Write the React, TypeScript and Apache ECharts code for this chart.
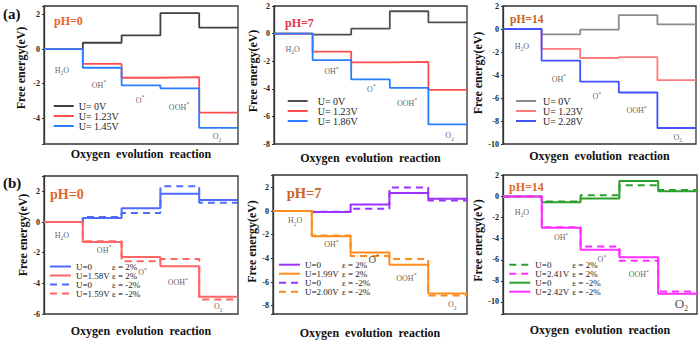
import React, { useEffect, useRef } from 'react';
import * as echarts from 'echarts';

const SERIF = '"Liberation Serif", "Times New Roman", serif';

// reaction intermediates (x positions 0..4)
const steps = ['H2O', 'OH*', 'O*', 'OOH*', 'O2'];

// (a) pH = 0
const a0U0 = [0, 0.37, 0.8, 2.09, 1.25];
const a0U123 = [0, -0.86, -1.66, -1.62, -3.68];
const a0U145 = [0, -1.08, -2.1, -2.27, -4.56];
// (a) pH = 7
const a7U0 = [0, -0.07, 0.36, 1.62, 0.82];
const a7U123 = [0, -1.3, -2.08, -2.05, -4.08];
const a7U186 = [0, -1.92, -3.32, -3.93, -6.58];
// (a) pH = 14
const a14U0 = [0, -0.46, -0.06, 1.21, 0.4];
const a14U123 = [0, -1.73, -2.52, -2.45, -4.45];
const a14U228 = [0, -2.75, -4.57, -5.52, -8.61];

// (b) pH = 0
const b0U0p2 = [0, 0.26, 0.89, 1.85, 1.43];
const b0U158p2 = [0, -1.3, -2.28, -2.88, -4.87];
const b0U0m2 = [0, 0.33, 0.59, 2.33, 1.26];
const b0U159m2 = [0, -1.26, -2.56, -2.42, -5.05];
// (b) pH = 7
const b7U0p2 = [0, -0.08, 0.56, 1.52, 1.04];
const b7U199p2 = [0, -2.12, -3.5, -4.54, -6.97];
const b7U0m2 = [0, -0.06, 0.2, 2.0, 0.9];
const b7U200m2 = [0, -2.06, -3.8, -4.05, -7.13];
// (b) pH = 14
const b14U0p2 = [0, -0.47, 0.13, 1.08, 0.63];
const b14U241p2 = [0, -2.92, -4.73, -6.1, -9.02];
const b14U0m2 = [0, -0.54, -0.19, 1.49, 0.51];
const b14U242m2 = [0, -2.97, -5.05, -5.76, -9.22];

// label anchors for the intermediate names (data coordinates)
const a0LabelPos = [[0.46, -1.22], [1.42, -2.09], [2.48, -2.96], [3.48, -3.38], [4.46, -5.08]];
const a7LabelPos = [[0.48, -1.13], [1.49, -2.75], [2.52, -4.02], [3.45, -5.03], [4.55, -7.4]];
const a14LabelPos = [[0.49, -1.49], [1.45, -4.35], [2.43, -5.89], [3.46, -7.1], [4.53, -9.41]];
const b0LabelPos = [[0.46, -0.85], [1.55, -1.83], [2.54, -3.3], [3.45, -3.96], [4.49, -5.52]];
const b7LabelPos = [[0.57, -0.82], [1.51, -2.85], [2.6, -4.06], [3.44, -5.66], [4.62, -7.92]];
const b14LabelPos = [[0.49, -1.48], [1.5, -3.89], [2.55, -6.01], [3.5, -7.44], [4.6, -10.12]];

const toSteps = (vals: number[]) => [
  ...vals.map((v, i) => [i, v]),
  [vals.length, vals[vals.length - 1]],
];

const richName = (name: string, big: boolean) => {
  const n = big ? 'N' : 'n', s = big ? 'S' : 's', p = big ? 'P' : 'p';
  let out = '';
  for (const ch of name) {
    if (/[0-9]/.test(ch)) out += `{${s}|${ch}}`;
    else if (ch === '*') out += `{${p}|*}`;
    else out += `{${n}|${ch}}`;
  }
  return out;
};

type S = { name: string; vals: number[]; color: string; dashed?: boolean };

const panels = [
  {
    key: 'a0', grid: { left: 44, top: 6, width: 194, height: 138 }, ymin: -5.5, ymax: 2.5,
    xGap: 4, yGap: 17, yShift: 7, width: 1.8,
    series: [
      { name: 'a0|U= 0V', vals: a0U0, color: '#404040' },
      { name: 'a0|U= 1.23V', vals: a0U123, color: '#ff4d4d' },
      { name: 'a0|U= 1.45V', vals: a0U145, color: '#2b7dff' },
    ] as S[],
    legendOrder: ['a0|U= 0V', 'a0|U= 1.23V', 'a0|U= 1.45V'],
    legend: { left: 52.7, top: 101, lh: 10.5, pad: 0, kind: 'a', fs: 10, uw: 0 },
    labels: a0LabelPos, big: [] as number[], bigSize: 10,
    ph: { text: 'pH=0', x: 54, y: 21, size: 12, color: '#e8642c' },
  },
  {
    key: 'a7', grid: { left: 274, top: 6, width: 193, height: 138 }, ymin: -8, ymax: 2,
    xGap: 8, yGap: 14, yShift: 4, width: 1.8,
    series: [
      { name: 'a7|U= 0V', vals: a7U0, color: '#505050' },
      { name: 'a7|U= 1.23V', vals: a7U123, color: '#ff4d4d' },
      { name: 'a7|U= 1.86V', vals: a7U186, color: '#2b7dff' },
    ] as S[],
    legendOrder: ['a7|U= 0V', 'a7|U= 1.23V', 'a7|U= 1.86V'],
    legend: { left: 286.7, top: 96, lh: 12, pad: 5, kind: 'a', fs: 10, uw: 0 },
    labels: a7LabelPos, big: [] as number[], bigSize: 10,
    ph: { text: 'pH=7', x: 285, y: 23, size: 12, color: '#dd3344' },
  },
  {
    key: 'a14', grid: { left: 503, top: 6, width: 193, height: 138 }, ymin: -10, ymax: 2,
    xGap: 6, yGap: 16, yShift: 2, width: 1.8,
    series: [
      { name: 'a14|U= 0V', vals: a14U0, color: '#8c8c8c' },
      { name: 'a14|U= 1.23V', vals: a14U123, color: '#ff7b7b' },
      { name: 'a14|U= 2.28V', vals: a14U228, color: '#4250ff' },
    ] as S[],
    legendOrder: ['a14|U= 0V', 'a14|U= 1.23V', 'a14|U= 2.28V'],
    legend: { left: 515, top: 96, lh: 12, pad: 2, kind: 'a', fs: 10, uw: 0 },
    labels: a14LabelPos, big: [] as number[], bigSize: 10,
    ph: { text: 'pH=14', x: 510, y: 19, size: 11.5, color: '#c8601e' },
  },
  {
    key: 'b0', grid: { left: 44, top: 176, width: 194, height: 138 }, ymin: -6, ymax: 3,
    xGap: 11, yGap: 15, yShift: 10, width: 2,
    series: [
      { name: 'b0|U=0|ε = -2%', vals: b0U0m2, color: '#4f6bff', dashed: true },
      { name: 'b0|U=0|ε = 2%', vals: b0U0p2, color: '#4f6bff' },
      { name: 'b0|U=1.59V|ε = -2%', vals: b0U159m2, color: '#ff6464', dashed: true },
      { name: 'b0|U=1.58V|ε = 2%', vals: b0U158p2, color: '#ff6464' },
    ] as S[],
    legendOrder: ['b0|U=0|ε = 2%', 'b0|U=1.58V|ε = 2%', 'b0|U=0|ε = -2%', 'b0|U=1.59V|ε = -2%'],
    legend: { left: 49, top: 262, lh: 11.8, pad: 0, kind: 'b', fs: 9, uw: 36 },
    labels: b0LabelPos, big: [] as number[], bigSize: 10,
    ph: { text: 'pH=0', x: 50, y: 194, size: 14, color: '#e0642a' },
  },
  {
    key: 'b7', grid: { left: 273, top: 175, width: 194, height: 139 }, ymin: -8.7, ymax: 3.05,
    xGap: 13, yGap: 13, yShift: 3, width: 2,
    series: [
      { name: 'b7|U=0|ε = -2%', vals: b7U0m2, color: '#9b30ff', dashed: true },
      { name: 'b7|U=0|ε = 2%', vals: b7U0p2, color: '#9b30ff' },
      { name: 'b7|U=2.00V|ε = -2%', vals: b7U200m2, color: '#ff8c1a', dashed: true },
      { name: 'b7|U=1.99V|ε = 2%', vals: b7U199p2, color: '#ff8c1a' },
    ] as S[],
    legendOrder: ['b7|U=0|ε = 2%', 'b7|U=1.99V|ε = 2%', 'b7|U=0|ε = -2%', 'b7|U=2.00V|ε = -2%'],
    legend: { left: 278, top: 260.2, lh: 12.9, pad: 0, kind: 'b', fs: 9, uw: 37 },
    labels: b7LabelPos, big: [2], bigSize: 10.5,
    ph: { text: 'pH=7', x: 286.7, y: 193.3, size: 14.5, color: '#c86428' },
  },
  {
    key: 'b14', grid: { left: 503, top: 175, width: 194, height: 139 }, ymin: -11.15, ymax: 2.05,
    xGap: 10, yGap: 15, yShift: 4, width: 2,
    series: [
      { name: 'b14|U=0|ε = 2%', vals: b14U0p2, color: '#2ca02c', dashed: true },
      { name: 'b14|U=0|ε = -2%', vals: b14U0m2, color: '#2ca02c' },
      { name: 'b14|U=2.41V|ε = 2%', vals: b14U241p2, color: '#ff2cff', dashed: true },
      { name: 'b14|U=2.42V|ε = -2%', vals: b14U242m2, color: '#ff2cff' },
    ] as S[],
    legendOrder: ['b14|U=0|ε = 2%', 'b14|U=2.41V|ε = 2%', 'b14|U=0|ε = -2%', 'b14|U=2.42V|ε = -2%'],
    legend: { left: 508.3, top: 260.2, lh: 12.8, pad: 0, kind: 'b', fs: 9, uw: 37 },
    labels: b14LabelPos, big: [4], bigSize: 13,
    ph: { text: 'pH=14', x: 509, y: 187.3, size: 12, color: '#e06a28' },
  },
];

const makeRich = (bigSize: number) => {
  const lhB = bigSize + 4;
  return {
    n: { fontSize: 8, fontFamily: SERIF, color: '#333', lineHeight: 12, verticalAlign: 'middle' },
    s: { fontSize: 5.5, fontFamily: SERIF, color: '#333', lineHeight: 12, verticalAlign: 'bottom' },
    p: { fontSize: 6, fontFamily: SERIF, color: '#333', lineHeight: 12, verticalAlign: 'top' },
    N: { fontSize: bigSize, fontFamily: SERIF, color: '#222', lineHeight: lhB, verticalAlign: 'middle' },
    S: { fontSize: bigSize * 0.65, fontFamily: SERIF, color: '#222', lineHeight: lhB, verticalAlign: 'bottom' },
    P: { fontSize: bigSize * 0.65, fontFamily: SERIF, color: '#222', lineHeight: lhB, verticalAlign: 'top' },
  };
};

function buildOption() {
  const grid: any[] = [];
  const xAxis: any[] = [];
  const yAxis: any[] = [];
  const series: any[] = [];
  const legend: any[] = [];
  const graphic: any[] = [
    { type: 'text', x: 3, y: 14, style: { text: '(a)', font: `bold 15px ${SERIF}`, fill: '#111', verticalAlign: 'middle', textVerticalAlign: 'middle' } },
    { type: 'text', x: 3, y: 183, style: { text: '(b)', font: `bold 15px ${SERIF}`, fill: '#111', verticalAlign: 'middle', textVerticalAlign: 'middle' } },
  ];

  panels.forEach((p, i) => {
    grid.push({ ...p.grid, show: true, borderColor: '#333', borderWidth: 1.3, backgroundColor: 'transparent' });
    xAxis.push({
      type: 'value', gridIndex: i, min: 0, max: 5,
      axisLine: { show: false }, axisTick: { show: false }, axisLabel: { show: false }, splitLine: { show: false },
      name: 'Oxygen  evolution  reaction', nameLocation: 'middle', nameGap: p.xGap,
      nameTextStyle: { fontFamily: SERIF, fontWeight: 'bold', fontSize: 12, color: '#111' },
    });
    yAxis.push({
      type: 'value', gridIndex: i, min: p.ymin, max: p.ymax, minInterval: 2, maxInterval: 2,
      axisLine: { show: true, lineStyle: { color: '#333', width: 1.3 } },
      axisTick: { show: true, length: 2, lineStyle: { color: '#333' } },
      axisLabel: {
        fontSize: 8, fontFamily: SERIF, fontWeight: 'bold', color: '#222', margin: 4,
        formatter: (v: number) => (Math.abs(v % 2) < 1e-9 ? String(Math.round(v)) : ''),
      },
      splitLine: { show: false },
      name: 'Free energy(eV)', nameLocation: 'middle', nameGap: p.yGap,
      nameTextStyle: { fontFamily: SERIF, fontWeight: 'bold', fontSize: 12, color: '#111', padding: [0, 0, 0, p.yShift * 2] },
    });
    p.series.forEach((s, k) => {
      series.push({
        type: 'line', name: s.name, xAxisIndex: i, yAxisIndex: i, data: toSteps(s.vals), step: 'end',
        symbol: 'none', silent: true, z: 3 + k,
        lineStyle: { color: s.color, width: p.width, type: s.dashed ? [7, 5] : 'solid' },
        itemStyle: { color: s.color },
      });
    });
    series.push({
      type: 'scatter', xAxisIndex: i, yAxisIndex: i, symbolSize: 1, silent: true, z: 10,
      itemStyle: { color: 'rgba(0,0,0,0)' },
      data: steps.map((name, k) => ({ value: p.labels[k], rt: richName(name, p.big.includes(k)) })),
      label: { show: true, position: 'inside', formatter: (prm: any) => prm.data.rt, rich: makeRich(p.bigSize) },
    });
    const lg = p.legend;
    const isB = lg.kind === 'b';
    legend.push({
      show: true, orient: 'vertical', left: lg.left, top: lg.top, padding: 0, itemGap: 0,
      itemWidth: isB ? 21 : 20, itemHeight: 8, selectedMode: false, data: p.legendOrder,
      itemStyle: { color: 'rgba(0,0,0,0)', borderWidth: 0, opacity: 0 },
      formatter: (name: string) => {
        const parts = name.split('|');
        return isB ? `{u|${parts[1]}}{e|${parts[2]}}` : `{t|${parts[1]}}`;
      },
      textStyle: {
        fontFamily: SERIF, fontSize: lg.fs, color: '#222',
        rich: {
          t: { fontFamily: SERIF, fontSize: lg.fs, color: '#222', lineHeight: lg.lh, padding: [0, 0, 0, lg.pad] },
          u: { fontFamily: SERIF, fontSize: lg.fs, color: '#222', lineHeight: lg.lh, width: lg.uw },
          e: { fontFamily: SERIF, fontSize: lg.fs, color: '#222', lineHeight: lg.lh },
        },
      },
    });
    graphic.push({
      type: 'text', x: p.ph.x, y: p.ph.y,
      style: { text: p.ph.text, font: `bold ${p.ph.size}px ${SERIF}`, fill: p.ph.color, verticalAlign: 'middle', textVerticalAlign: 'middle' },
    });
  });

  return { animation: false, grid, xAxis, yAxis, series, legend, graphic };
}

export default function App() {
  const ref = useRef<HTMLDivElement>(null);
  useEffect(() => {
    if (!ref.current) return;
    const chart = echarts.init(ref.current, undefined, { renderer: 'svg' });
    chart.setOption(buildOption() as any);
    return () => chart.dispose();
  }, []);
  return (
    <div
      ref={ref}
      style={{ position: 'fixed', left: 0, top: 0, width: 700, height: 342, background: '#fff' }}
    />
  );
}
